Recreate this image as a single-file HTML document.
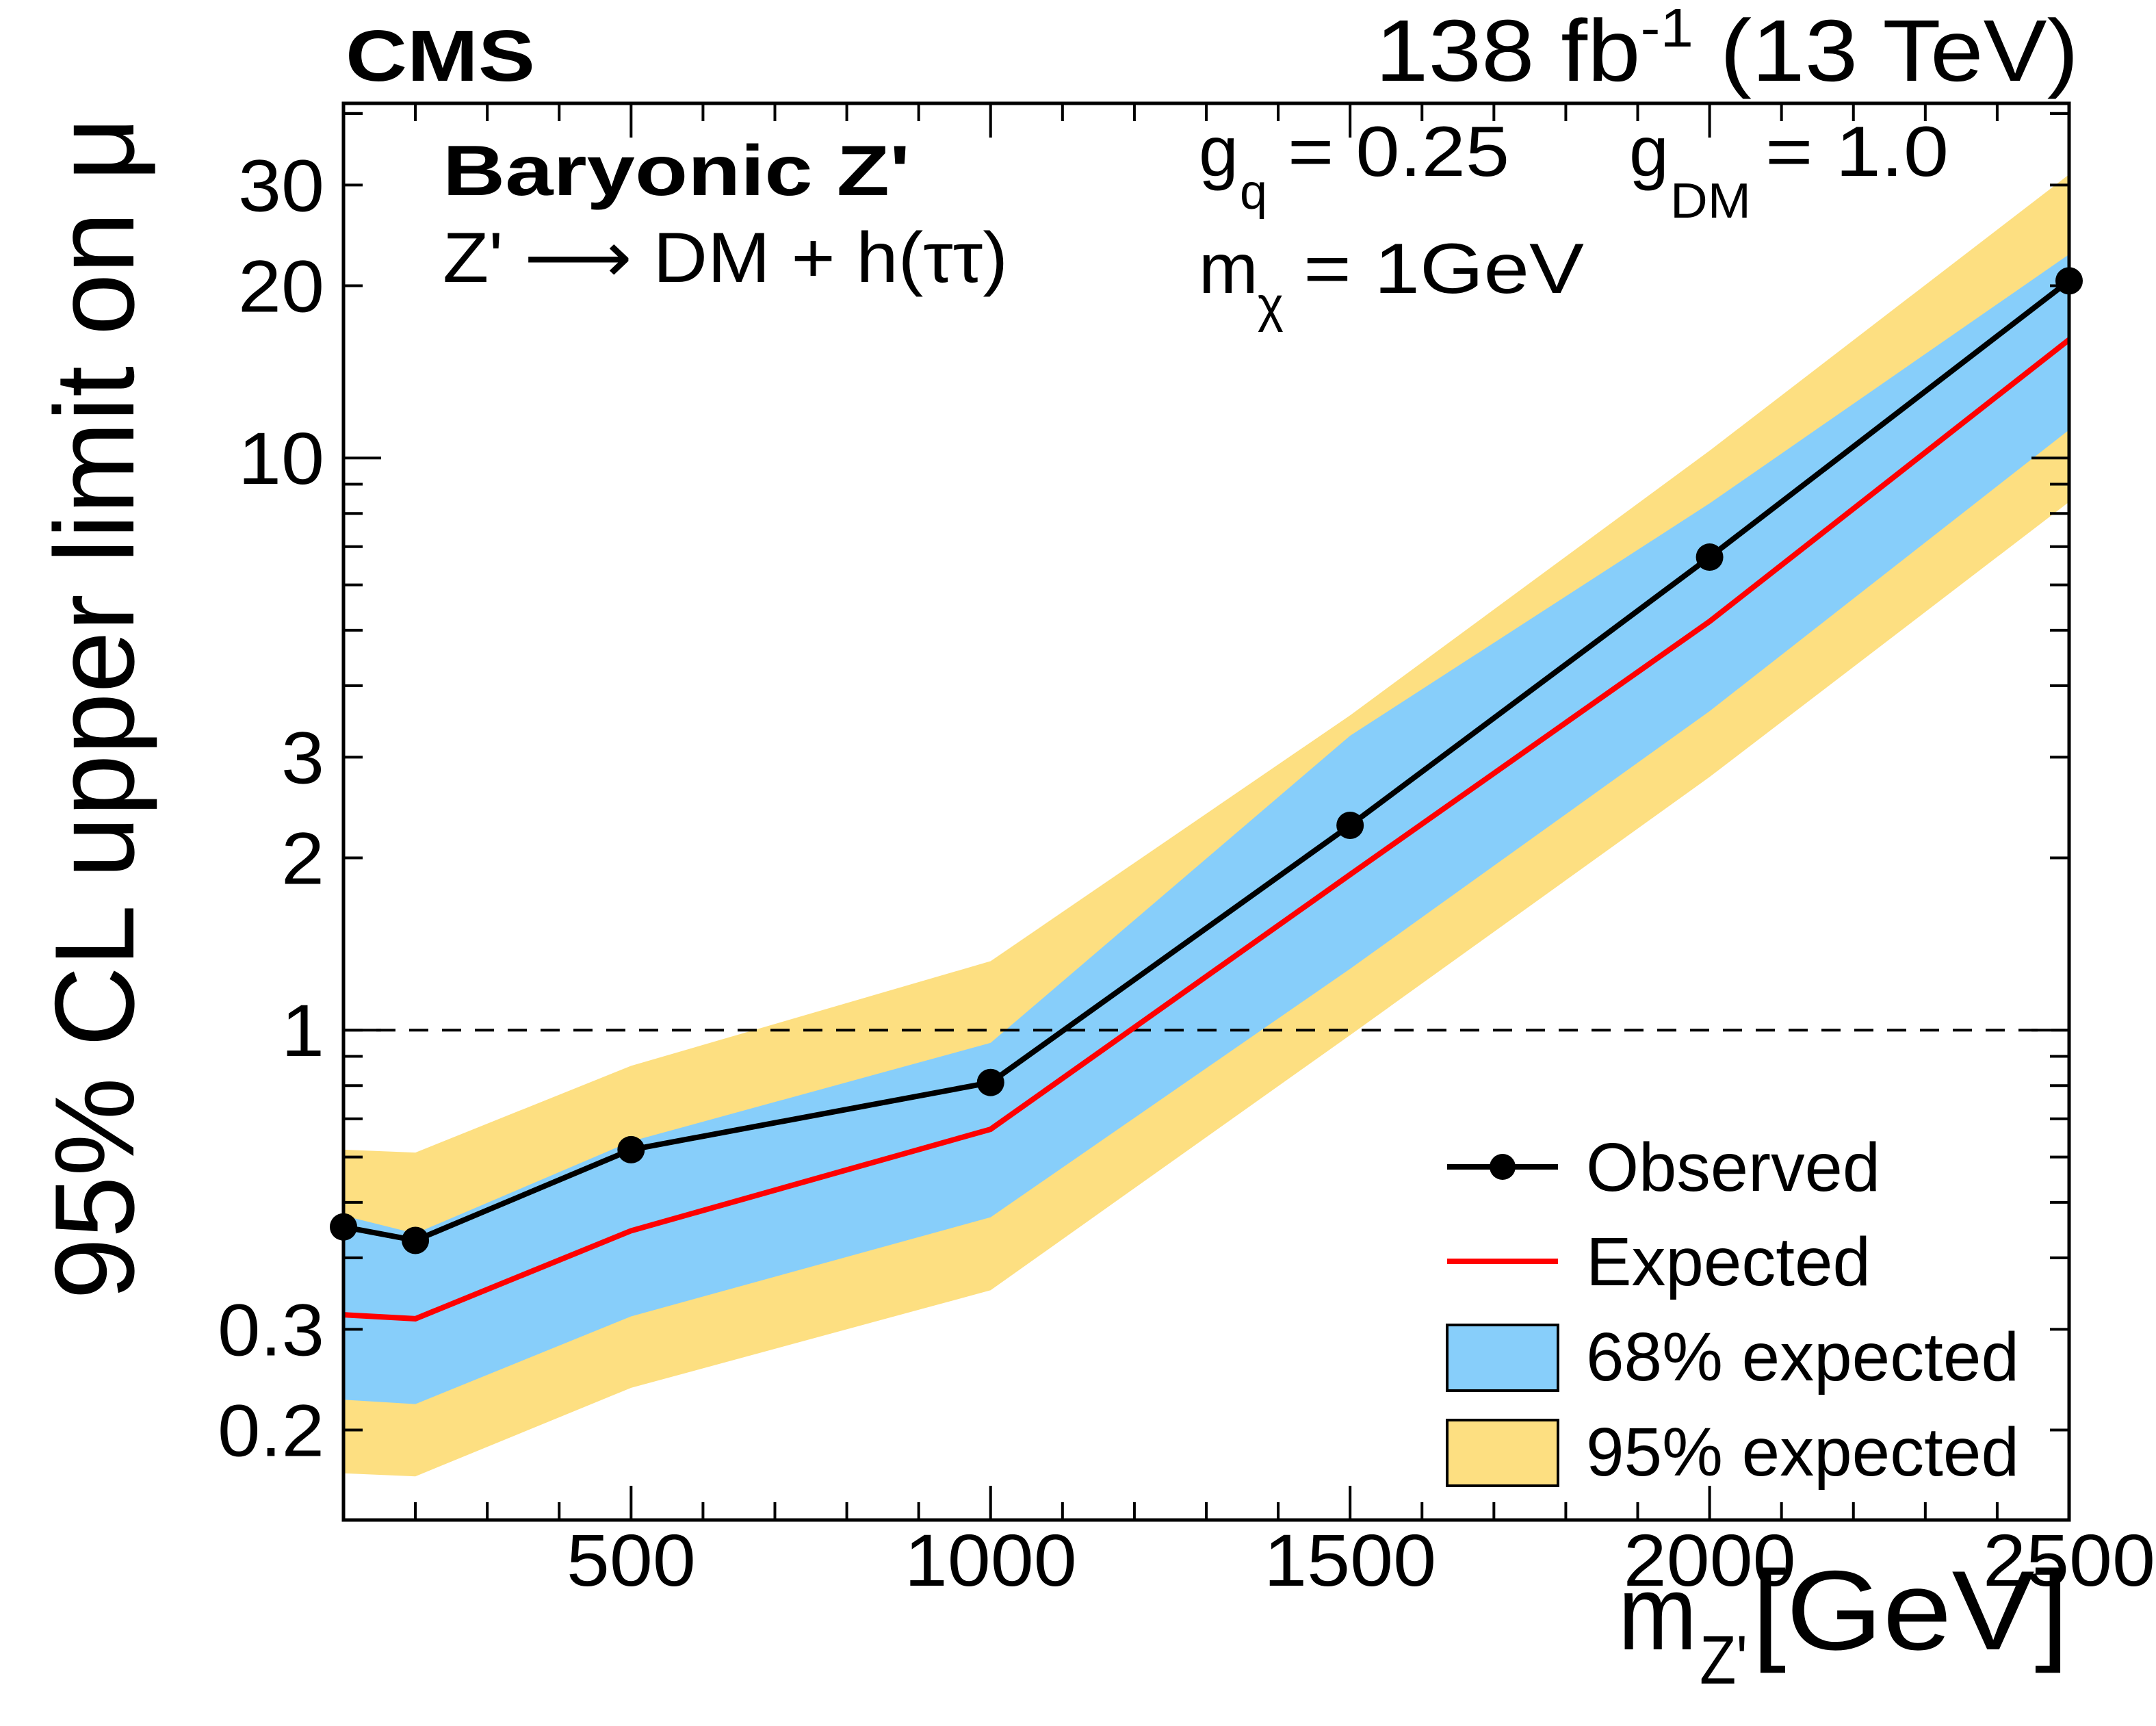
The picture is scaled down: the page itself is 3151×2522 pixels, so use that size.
<!DOCTYPE html>
<html><head><meta charset="utf-8"><style>
html,body{margin:0;padding:0;background:#fff;}
svg{display:block;font-family:"Liberation Sans",sans-serif;}
</style></head><body>
<svg id="chart" width="3151" height="2522" viewBox="0 0 3151 2522" xmlns="http://www.w3.org/2000/svg">
<g id="bands"></g>
<g id="lines"></g>
<g id="axes"></g>
<text x="505" y="118" font-size="106" font-weight="bold" textLength="277" lengthAdjust="spacingAndGlyphs">CMS</text>
<text x="2010" y="118" font-size="128" textLength="1028" lengthAdjust="spacingAndGlyphs">138 fb<tspan dy="-50" font-size="80">-1</tspan><tspan dy="50"> (13 TeV)</tspan></text>
<text x="647" y="285" font-size="104" font-weight="bold" textLength="683" lengthAdjust="spacingAndGlyphs">Baryonic Z'</text>
<text x="647" y="412" font-size="104" textLength="826" lengthAdjust="spacingAndGlyphs">Z' ⟶ DM + h(ττ)</text>
<g><text x="1752" y="257" font-size="104">g</text><text x="1812" y="305" font-size="72">q</text><text x="1882" y="257" font-size="104" textLength="324" lengthAdjust="spacingAndGlyphs">= 0.25</text></g>
<g><text x="2381" y="257" font-size="104">g</text><text x="2441" y="318" font-size="72" textLength="118" lengthAdjust="spacingAndGlyphs">DM</text><text x="2580" y="257" font-size="104" textLength="268" lengthAdjust="spacingAndGlyphs">= 1.0</text></g>
<g><text x="1752" y="428" font-size="104">m</text><text x="1838" y="470" font-size="72">χ</text><text x="1905" y="428" font-size="104" textLength="410" lengthAdjust="spacingAndGlyphs">= 1GeV</text></g>
<text transform="translate(195,1899) rotate(-90)" font-size="165" textLength="1728" lengthAdjust="spacingAndGlyphs">95% CL upper limit on μ</text>
<g><text x="2365" y="2410" font-size="155" textLength="115" lengthAdjust="spacingAndGlyphs">m</text><text x="2484" y="2460" font-size="100" textLength="70" lengthAdjust="spacingAndGlyphs">Z'</text><text x="2560" y="2410" font-size="165" textLength="464" lengthAdjust="spacingAndGlyphs">[GeV]</text></g>
<g id="legend">
<g><line x1="2115" y1="1705" x2="2277" y2="1705" stroke="#000" stroke-width="8"/><circle cx="2196" cy="1705" r="19"/><text x="2318" y="1740" font-size="100" textLength="430" lengthAdjust="spacingAndGlyphs">Observed</text></g>
<g><line x1="2115" y1="1843" x2="2277" y2="1843" stroke="#ff0000" stroke-width="8"/><text x="2318" y="1878" font-size="100" textLength="416" lengthAdjust="spacingAndGlyphs">Expected</text></g>
<g><rect x="2115" y="1936" width="162" height="96" fill="#87cefa" stroke="#000" stroke-width="4"/><text x="2318" y="2017" font-size="100" textLength="633" lengthAdjust="spacingAndGlyphs">68% expected</text></g>
<g><rect x="2115" y="2075" width="162" height="96" fill="#fddf81" stroke="#000" stroke-width="4"/><text x="2318" y="2156" font-size="100" textLength="633" lengthAdjust="spacingAndGlyphs">95% expected</text></g>
</g>
</svg>
<script>
const masses = [100, 200, 500, 1000, 1500, 2000, 2500];
const observed = [0.453, 0.429, 0.618, 0.81, 2.28, 6.71, 20.4];
const expected = [0.318, 0.313, 0.446, 0.671, 1.87, 5.18, 16.1];
const band68Up = [0.474, 0.441, 0.639, 0.95, 3.27, 8.33, 22.7];
const band68Down = [0.226, 0.222, 0.316, 0.471, 1.28, 3.61, 11.2];
const band95Up = [0.618, 0.611, 0.866, 1.32, 3.55, 10.3, 31.3];
const band95Down = [0.168, 0.166, 0.237, 0.351, 0.98, 2.77, 8.38];
const xTickLabels = [500, 1000, 1500, 2000, 2500];
const yTickLabels = [0.2, 0.3, 1, 2, 3, 10, 20, 30];

const NS = 'http://www.w3.org/2000/svg';
const L = 502, R = 3024, T = 151, B = 2221;
const xMin = 100, xMax = 2500;
const y0 = 1505.2, dec = 836;
function X(m){ return L + (m - xMin) / (xMax - xMin) * (R - L); }
function Y(v){ return y0 - dec * Math.log10(v); }
function mk(tag, attrs, parent){ const e = document.createElementNS(NS, tag); for (const k in attrs) e.setAttribute(k, attrs[k]); parent.appendChild(e); return e; }
function labelWidth(s){ let w = 0; for (const ch of String(s)) w += (ch === '.') ? 30 : 63; return w; }
const bands = document.getElementById('bands'), lines = document.getElementById('lines'), axes = document.getElementById('axes');

function bandPath(up, down){
  let d = masses.map((m,i)=>(i?'L':'M')+X(m).toFixed(1)+','+Y(up[i]).toFixed(1)).join(' ');
  for (let i = masses.length-1; i >= 0; i--) d += ' L'+X(masses[i]).toFixed(1)+','+Y(down[i]).toFixed(1);
  return d + ' Z';
}
const b95 = mk('path', {d: bandPath(band95Up, band95Down), fill: '#fddf81'}, bands);


const b68 = mk('path', {d: bandPath(band68Up, band68Down), fill: '#87cefa'}, bands);



const ref = mk('line', {x1: L, x2: R, y1: Y(1), y2: Y(1), stroke: '#000', 'stroke-width': 4, 'stroke-dasharray': '28,20'}, lines);



const exp = mk('polyline', {points: masses.map((m,i)=>X(m)+','+Y(expected[i])).join(' '), fill: 'none', stroke: '#ff0000', 'stroke-width': 8}, lines);


const obs = mk('polyline', {points: masses.map((m,i)=>X(m)+','+Y(observed[i])).join(' '), fill: 'none', stroke: '#000', 'stroke-width': 8}, lines);


masses.forEach((m,i)=>{
  const c = mk('circle', {cx: X(m), cy: Y(observed[i]), r: 20, fill: '#000'}, lines);
  
  
});

const frame = mk('rect', {x: L, y: T, width: R-L, height: B-T, fill: 'none', stroke: '#000', 'stroke-width': 5}, axes);



for (let m = 200; m < 2500; m += 100){
  const major = m % 500 === 0;
  const len = major ? 50 : 26;
  mk('line', {x1: X(m), x2: X(m), y1: B, y2: B-len, stroke: '#000', 'stroke-width': 4}, axes);
  mk('line', {x1: X(m), x2: X(m), y1: T, y2: T+len, stroke: '#000', 'stroke-width': 4}, axes);
}
xTickLabels.forEach(v=>{
  const w = labelWidth(v);
  const t = mk('text', {x: X(v) - w/2, y: 2317, 'font-size': 108, textLength: w, lengthAdjust: 'spacingAndGlyphs'}, axes);
  t.textContent = v;
  
  
});
[0.1,1,10].forEach(base=>{
  for (let k = 1; k <= 9; k++){
    const v = base * k;
    const yy = Y(v);
    if (yy < T || yy > B) continue;
    const len = k === 1 ? 55 : 28;
    mk('line', {x1: L, x2: L+len, y1: yy, y2: yy, stroke: '#000', 'stroke-width': 4}, axes);
    mk('line', {x1: R, x2: R-len, y1: yy, y2: yy, stroke: '#000', 'stroke-width': 4}, axes);
  }
});
{ const yy = Y(40); mk('line', {x1: L, x2: L+28, y1: yy, y2: yy, stroke: '#000', 'stroke-width': 4}, axes); mk('line', {x1: R, x2: R-28, y1: yy, y2: yy, stroke: '#000', 'stroke-width': 4}, axes); }
yTickLabels.forEach(v=>{
  const w = labelWidth(v);
  const t = mk('text', {x: 474 - w, y: Y(v)+38, 'font-size': 108, textLength: w, lengthAdjust: 'spacingAndGlyphs'}, axes);
  t.textContent = v;
  
  
});
</script>
</body></html>
